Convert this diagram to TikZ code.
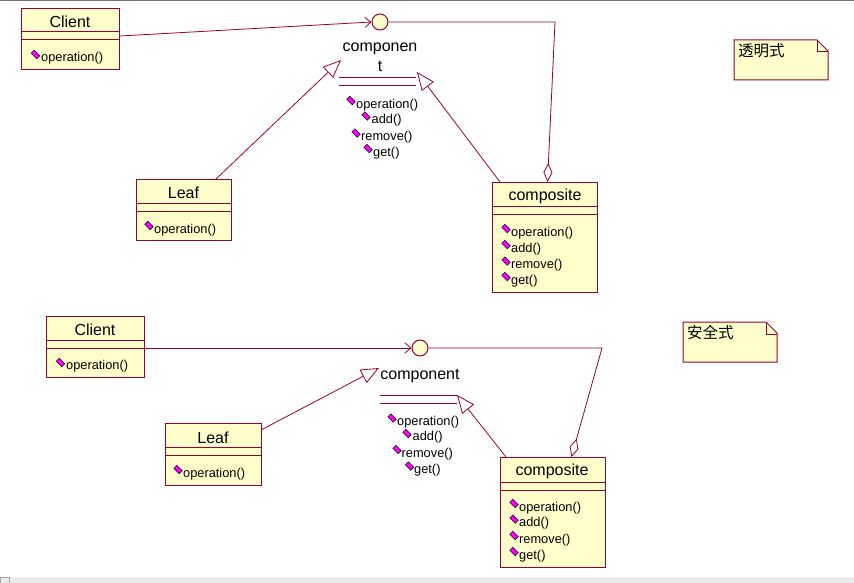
\documentclass[tikz,border=0pt]{standalone}
\usepackage{fontspec}
\setmainfont{Liberation Sans}
\newfontfamily\cjk{Noto Sans CJK SC}
\usetikzlibrary{arrows.meta,calc}
\definecolor{umlred}{RGB}{153,0,51}
\definecolor{umlfill}{RGB}{255,255,204}
\definecolor{opmag}{RGB}{255,0,255}
\tikzset{
  cls/.style={draw=umlred, fill=umlfill, line width=1pt, anchor=north west, inner sep=0pt},
  sep/.style={draw=umlred, line width=1pt},
  ttl/.style={font=\fontsize{16}{18}\selectfont, inner sep=0pt},
  meth/.style={font=\fontsize{12.8}{14}\selectfont, anchor=west, inner sep=0pt},
  conn/.style={draw=umlred, line width=0.8pt},
  opic/.pic={\draw[black, fill=opmag, line width=0.5pt] (4.2,1.2) -- (1.2,4.2) -- (-4.2,-1.2) -- (-1.2,-4.2) -- cycle;},
  iface/.style={circle, draw=umlred, fill=umlfill, line width=1pt, minimum size=16pt, inner sep=0pt},
  gen/.style={conn, -{Triangle[fill=white, length=18pt, width=15pt, line width=0.8pt]}},
  use/.style={conn, -{Straight Barb[length=6pt, width=10pt, line width=0.8pt]}},
  agg/.style={conn, -{Diamond[fill=white, length=19pt, width=9pt, line width=0.8pt]}},
  note/.style={draw=umlred, fill=umlfill, line width=1pt},
  cjkt/.style={font=\cjk\fontsize{15.5}{17}\selectfont, anchor=west, inner sep=0pt}
}
\begin{document}
\begin{tikzpicture}[x=1pt, y=-1pt]
\useasboundingbox (0,0) rectangle (854,583);
% window edges
\fill[black!55] (0,0) rectangle (854,1.5);
\fill[black!8] (0,577) rectangle (854,583);
\draw[black!35, line width=0.5pt] (0.5,577) rectangle (9,583);

% ================= TOP =================
% Client
\node[cls, minimum width=98pt, minimum height=61pt] (c1) at (21,8) {};
\draw[sep] (21,32) -- (119,32) (21,40) -- (119,40);
\node[ttl] (c1t) at (70,21.5) {Client};
\pic at (35.5,54.5) {opic};
\node[meth] (c1m) at (41,58.5) {operation()};

% interface circle
\node[iface] (i1) at (380,22) {};

% component (interface)
\node[ttl] (k1a) at (380,48.5) {componen};
\node[ttl] (k1b) at (380,66.5) {t};
\coordinate (k1l) at (339,78);
\coordinate (k1r) at (416,78);
\draw[sep] (k1l) -- (k1r) (339,86) -- (416,86);
\pic at (351,100.5) {opic};
\node[meth] at (356,105) {operation()};
\pic at (366,116) {opic};
\node[meth] at (371.5,120.5) {add()};
\pic at (356,133) {opic};
\node[meth] at (361,137) {remove()};
\pic at (368,148.5) {opic};
\node[meth] at (373,153) {get()};

% Leaf
\node[cls, minimum width=95pt, minimum height=61pt] (l1) at (136,179) {};
\draw[sep] (136,203) -- (231,203) (136,211) -- (231,211);
\node[ttl] at (183.5,192.5) {Leaf};
\pic at (149,225.5) {opic};
\node[meth] at (154,230) {operation()};

% composite
\node[cls, minimum width=105pt, minimum height=110pt] (p1) at (492,182) {};
\draw[sep] (492,206) -- (597,206) (492,214) -- (597,214);
\node[ttl] at (545,196.5) {composite};
\pic at (506,228.5) {opic};
\node[meth] at (511,233) {operation()};
\pic at (506,244.5) {opic};
\node[meth] at (511,249) {add()};
\pic at (506,261) {opic};
\node[meth] at (511,265.5) {remove()};
\pic at (506,276.5) {opic};
\node[meth] at (511,281) {get()};

% connectors top
\coordinate (c1out) at (120,36);
\draw[use] (c1out) -- (i1.west);
\coordinate (g1tip) at (341,60);
\coordinate (l1out) at (216,179);
\draw[gen] (l1out) -- (g1tip);
\coordinate (g2tip) at (417,72);
\coordinate (p1out) at (500,182);
\draw[gen] (p1out) -- (g2tip);
\coordinate (a1corner) at (555,22);
\coordinate (p1agg) at (547.5,182);
\draw[agg] (i1.east) -- (a1corner) -- (p1agg);

% note top
\draw[note] (734,40) -- (817,40) -- (828,51) -- (828,80) -- (734,80) -- cycle;
\draw[umlred, line width=1pt] (817,40) -- (817,52) -- (828,52);
\node[cjkt] (n1) at (738,51) {透明式};

% ================= BOTTOM =================
% Client
\node[cls, minimum width=98pt, minimum height=61pt] (c2) at (46,316) {};
\draw[sep] (46,340) -- (144,340) (46,348) -- (144,348);
\node[ttl] at (95,329.5) {Client};
\pic at (60.5,362.5) {opic};
\node[meth] at (66,366.5) {operation()};

% interface circle
\node[iface] (i2) at (420,348) {};

% component
\node[ttl] (k2) at (420,375.5) {component};
\draw[sep] (380,395) -- (457,395) (380,403) -- (457,403);
\pic at (392,418) {opic};
\node[meth] at (397,422) {operation()};
\pic at (407,433.5) {opic};
\node[meth] at (412.5,437.5) {add()};
\pic at (397,449.5) {opic};
\node[meth] at (401.5,454) {remove()};
\pic at (409.5,466) {opic};
\node[meth] at (414,470.5) {get()};

% Leaf
\node[cls, minimum width=96pt, minimum height=62pt] (l2) at (165,423) {};
\draw[sep] (165,447) -- (261,447) (165,455) -- (261,455);
\node[ttl] at (213,437.5) {Leaf};
\pic at (178,469.5) {opic};
\node[meth] at (183,474) {operation()};

% composite
\node[cls, minimum width=105pt, minimum height=110pt] (p2) at (500,457) {};
\draw[sep] (500,482) -- (605,482) (500,490) -- (605,490);
\node[ttl] at (552,471.5) {composite};
\pic at (514,503.5) {opic};
\node[meth] at (519,508) {operation()};
\pic at (514,519) {opic};
\node[meth] at (519,523.5) {add()};
\pic at (514,535.5) {opic};
\node[meth] at (519,540) {remove()};
\pic at (514,551.5) {opic};
\node[meth] at (519,556) {get()};

% connectors bottom
\coordinate (c2out) at (145,348);
\draw[use] (c2out) -- (i2.west);
\coordinate (g3tip) at (379,368);
\coordinate (l2out) at (261,430);
\draw[gen] (l2out) -- (g3tip);
\coordinate (g4tip) at (457,395);
\coordinate (p2out) at (506,457);
\draw[gen] (p2out) -- (g4tip);
\coordinate (a2corner) at (602,348);
\coordinate (p2agg) at (571.5,457);
\draw[agg] (i2.east) -- (a2corner) -- (p2agg);

% note bottom
\draw[note] (683,322) -- (766,322) -- (777,333) -- (777,362) -- (683,362) -- cycle;
\draw[umlred, line width=1pt] (766,322) -- (766,334) -- (777,334);
\node[cjkt] (n2) at (687,333) {安全式};
\end{tikzpicture}
\end{document}
